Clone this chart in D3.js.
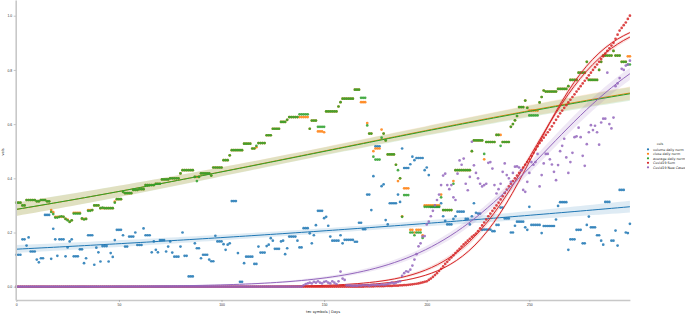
<!DOCTYPE html>
<html>
<head>
<meta charset="utf-8">
<script src="https://cdn.jsdelivr.net/npm/d3@7"></script>
<style>
  body { margin: 0; background: #fff; }
  svg { display: block; font-family: "DejaVu Sans", sans-serif; }
</style>
</head>
<body>
<div id="dataViz"></div>
<script>
const width = 685;
const height = 315;

// Legend entries, in draw order
const cols = ["volume daily norm", "close daily norm", "average daily norm", "Covid19 Sum", "Covid19 New Cases"];
const xTicks = [0, 50, 100, 150, 200, 250];
const yTicks = [0.0, 0.2, 0.4, 0.6, 0.8, 1.0];

// One value per day, day 0..299
const volume = [
  .118,.118,.118,.175,.175,.152,.182,.13,.13,.13,
  .10,.09,.105,.105,.265,.265,.265,.103,.214,.175,
  .114,.175,.175,.175,.112,.145,.167,.175,.112,.112,
  .112,.138,.138,.087,.105,.19,.19,.19,.081,.144,
  .127,.093,.15,.15,.15,.093,.124,.11,.172,.21,
  .21,.21,.19,.148,.148,.185,.185,.185,.20,.154,
  .154,.154,.215,.19,.19,.19,.127,.167,.136,.127,
  .172,.172,.172,.13,.148,.167,.126,.111,.111,.111,
  .148,.20,.114,.114,.038,.038,.038,.16,.142,.142,
  .105,.118,.118,.118,.10,.094,.094,.188,.167,.167,
  .167,.157,.136,.155,.16,.316,.316,.316,.124,.018,
  .018,.087,.111,.111,.111,.111,.084,.084,.148,.126,
  .126,.126,.15,.155,.179,.17,.14,.14,.14,.167,
  .17,.12,.142,.185,.185,.185,.185,.17,.145,.145,
  .216,.216,.216,.197,.16,.19,.227,.28,.28,.28,
  .253,.258,.225,.185,.17,.17,.17,.17,.19,.16,
  .173,.173,.173,.173,.173,.166,.166,.236,.236,.212,
  .212,.34,.34,.283,.408,.518,.518,.518,.371,.378,
  .246,.23,.308,.308,.308,.308,.34,.313,.51,.438,
  .438,.438,.452,.48,.467,.475,.475,.475,.475,.43,
  .44,.412,.295,.295,.295,.295,.295,.308,.26,.243,
  .23,.23,.23,.25,.26,.277,.277,.277,.277,.25,
  .25,.23,.26,.308,.273,.27,.27,.21,.211,.211,
  .211,.211,.205,.205,.228,.228,.292,.292,.252,.252,
  .252,.2,.2,.225,.24,.24,.24,.24,.219,.21,
  .295,.228,.228,.228,.228,.228,.198,.224,.224,.224,
  .224,.224,.224,.248,.298,.312,.312,.312,.312,.136,
  .175,.175,.175,.21,.21,.21,.16,.16,.228,.259,
  .219,.219,.219,.19,.19,.17,.155,.313,.313,.313,
  .17,.17,.207,.152,.357,.357,.357,.2,.198,.232
];

const close = [
  .31,.31,.31,.30,.30,.32,.32,.32,.32,.32,
  .315,.315,.32,.32,.32,.315,.315,.283,.275,.258,
  .258,.258,.258,.258,.25,.248,.24,.245,.273,.273,
  .273,.273,.25,.25,.25,.283,.283,.283,.30,.30,
  .30,.29,.29,.29,.29,.29,.29,.29,.314,.323,
  .323,.323,.35,.345,.345,.345,.345,.357,.357,.357,
  .36,.36,.36,.375,.375,.375,.375,.375,.38,.38,
  .38,.396,.396,.396,.396,.40,.40,.40,.40,.40,
  .418,.43,.43,.43,.43,.43,.43,.405,.405,.405,
  .418,.418,.418,.418,.418,.41,.44,.44,.44,.44,
  .44,.467,.467,.467,.485,.504,.504,.504,.504,.504,
  .504,.528,.528,.528,.528,.51,.51,.515,.53,.53,
  .53,.53,.559,.559,.559,.583,.583,.583,.583,.608,
  .608,.608,.616,.626,.626,.626,.626,.626,.626,.626,
  .626,.626,.626,.583,.613,.613,.613,.573,.573,.573,
  .57,.647,.647,.647,.647,.647,.647,.665,.681,.694,
  .694,.694,.694,.694,.694,.727,.727,.727,.681,.681,
  .681,.604,.565,.565,.50,.51,.51,.51,.58,.565,
  .54,.488,.488,.488,.488,.45,.39,.40,.26,.363,
  .363,.363,.21,.21,.20,.21,.21,.21,.19,.30,
  .30,.30,.30,.30,.30,.30,.30,.34,.283,.283,
  .283,.283,.283,.39,.43,.43,.43,.43,.43,.43,
  .43,.43,.50,.54,.54,.54,.54,.54,.47,.534,
  .534,.534,.534,.534,.56,.56,.56,.534,.534,.534,
  .534,.59,.60,.614,.63,.663,.663,.663,.687,.66,
  .65,.65,.65,.65,.65,.68,.70,.724,.72,.72,
  .72,.72,.72,.72,.73,.73,.73,.73,.73,.74,
  .763,.763,.763,.763,.79,.79,.79,.79,.83,.763,
  .763,.763,.763,.763,.80,.83,.853,.853,.853,.853,
  .853,.87,.853,.853,.853,.83,.83,.83,.85,.85
];

const average = [
  .31,.31,.31,.30,.30,.32,.32,.32,.32,.32,
  .315,.315,.32,.32,.32,.315,.315,.276,.268,.255,
  .255,.258,.26,.258,.25,.245,.239,.245,.27,.27,
  .27,.27,.252,.248,.25,.28,.28,.283,.30,.30,
  .30,.29,.292,.29,.29,.29,.29,.29,.31,.323,
  .323,.323,.35,.345,.345,.345,.345,.357,.357,.357,
  .36,.36,.36,.375,.375,.375,.375,.375,.38,.38,
  .38,.396,.396,.396,.396,.40,.40,.40,.40,.40,
  .418,.43,.43,.43,.43,.43,.43,.405,.39,.405,
  .418,.418,.418,.418,.418,.41,.44,.44,.44,.44,
  .44,.467,.467,.467,.485,.504,.504,.504,.504,.504,
  .504,.528,.528,.528,.528,.51,.51,.52,.53,.53,
  .53,.53,.559,.559,.559,.583,.583,.583,.583,.608,
  .608,.608,.616,.626,.626,.626,.626,.626,.636,.636,
  .636,.636,.636,.583,.613,.613,.613,.59,.59,.59,
  .59,.647,.647,.647,.647,.647,.647,.665,.681,.694,
  .694,.694,.694,.694,.694,.727,.727,.727,.697,.697,
  .697,.595,.565,.565,.48,.469,.469,.469,.55,.565,
  .54,.488,.488,.488,.488,.45,.43,.40,.258,.338,
  .338,.338,.20,.20,.19,.20,.20,.20,.18,.295,
  .295,.295,.295,.295,.295,.295,.295,.33,.283,.283,
  .283,.283,.283,.38,.43,.43,.43,.43,.43,.43,
  .43,.43,.50,.54,.54,.54,.54,.54,.49,.534,
  .534,.534,.534,.534,.56,.56,.52,.534,.534,.534,
  .534,.59,.60,.614,.63,.663,.663,.663,.687,.66,
  .632,.632,.632,.632,.632,.68,.70,.724,.72,.72,
  .72,.72,.72,.72,.73,.73,.73,.73,.73,.74,
  .763,.763,.763,.763,.79,.79,.79,.79,.83,.763,
  .763,.763,.763,.763,.80,.83,.853,.853,.853,.853,
  .853,.87,.853,.853,.853,.83,.83,.83,.82,.82
];

const covidSum = [
  0,0,0,0,0,0,0,0,0,0, 0,0,0,0,0,0,0,0,0,0, 0,0,0,0,0,0,0,0,0,0,
  0,0,0,0,0,0,0,0,0,0, 0,0,0,0,0,0,0,0,0,0, 0,0,0,0,0,0,0,0,0,0,
  0,0,0,0,0,0,0,0,0,0, 0,0,0,0,0,0,0,0,0,0, 0,0,0,0,0,0,0,0,0,0,
  0,0,0,0,0,0,0,0,0,0, 0,0,0,0,0,0,0,0,0,0, 0,0,0,0,0,0,0,0,0,0,
  0,0,0,0,0,0,0,0,0,0, 0,0,0,0,0,0,0,0,0,0, 0,0,0,0,0,0,0,0,0,0,
  0,0,0,0,0,0,0,0,0,0, 0,0,0,0,0,0,0,0,0,0,
  .001,.001,.001,.001,.001,.002,.002,.002,.002,.002,
  .003,.003,.003,.003,.004,.004,.004,.005,.005,.006,
  .006,.007,.008,.009,.01,.011,.012,.014,.016,.018,
  .02,.025,.03,.036,.043,.05,.058,.066,.075,.084,
  .092,.1,.108,.116,.124,.132,.14,.148,.156,.163,
  .17,.177,.184,.19,.196,.205,.215,.226,.237,.248,
  .26,.27,.28,.29,.30,.31,.322,.334,.346,.358,
  .37,.38,.39,.40,.41,.42,.43,.44,.45,.46,
  .47,.482,.494,.506,.518,.53,.54,.55,.56,.57,
  .58,.592,.604,.616,.628,.64,.65,.66,.67,.68,
  .69,.70,.71,.72,.73,.74,.75,.76,.77,.78,
  .79,.80,.81,.82,.83,.84,.85,.86,.87,.88,
  .89,.90,.915,.93,.945,.955,.965,.975,.988,1.0
];

const covidNew = [
  0,0,0,0,0,0,0,0,0,0, 0,0,0,0,0,0,0,0,0,0, 0,0,0,0,0,0,0,0,0,0,
  0,0,0,0,0,0,0,0,0,0, 0,0,0,0,0,0,0,0,0,0, 0,0,0,0,0,0,0,0,0,0,
  0,0,0,0,0,0,0,0,0,0, 0,0,0,0,0,0,0,0,0,0, 0,0,0,0,0,0,0,0,0,0,
  0,0,0,0,0,0,0,0,0,0, 0,0,0,0,0,0,0,0,0,0, 0,0,0,0,0,0,0,0,0,0,
  0,0,0,0,0,0,0,0,0,0, 0,0,0,0,0,0,0,0,0,0,
  .005,.01,.012,.015,.012,.018,.015,.02,.015,.012,
  .018,.02,.015,.012,.02,.015,.01,.02,.056,.03,
  .025,.005,.005,.004,.003,.004,.003,.005,.004,.006,
  .005,.006,.004,.006,.007,.005,.008,.006,.009,.007,
  .008,.01,.012,.015,.012,.015,.018,.02,.04,.05,
  .057,.055,.063,.078,.10,.12,.149,.16,.185,.187,
  .23,.24,.26,.28,.30,.32,.34,.375,.41,.417,
  .375,.36,.375,.33,.32,.417,.466,.45,.473,.38,
  .356,.405,.535,.448,.42,.40,.38,.37,.375,.38,
  .457,.46,.436,.375,.344,.36,.38,.424,.455,.412,
  .40,.387,.42,.443,.444,.44,.43,.357,.35,.387,
  .42,.46,.45,.46,.49,.37,.412,.455,.49,.49,
  .47,.451,.424,.393,.449,.50,.52,.546,.477,.42,
  .46,.494,.552,.555,.587,.552,.483,.446,.526,.57,
  .596,.578,.594,.57,.524,.606,.62,.62,.79,.60,
  .584,.624,.74,.75,.77,.804,.80,.816,.82,.834
];

const colours = ["#1f77b4", "#ff7f0e", "#2ca02c", "#d62728", "#9467bd"];

// fits: first day used for each logistic fit; Covid19 Sum also gets one over its rise only
const series = [
  { name: cols[0], values: volume, colour: colours[0], fits: [0] },
  { name: cols[1], values: close, colour: colours[1], fits: [0] },
  { name: cols[2], values: average, colour: colours[2], fits: [0] },
  { name: cols[3], values: covidSum, colour: colours[3], fits: [0, 220] },
  { name: cols[4], values: covidNew, colour: colours[4], fits: [0] }
];

// Scales
const x = d3.scaleLinear().domain([0, 299]).range([16.3, 629.9]);
const y = d3.scaleLinear().domain([-0.049, 1.058]).range([300, 0]);

const svg = d3.select("#dataViz").append("svg")
  .attr("width", width)
  .attr("height", height);

function inv2(m) {
  const det = m[0][0] * m[1][1] - m[0][1] * m[1][0];
  return [[m[1][1] / det, -m[0][1] / det], [-m[1][0] / det, m[0][0] / det]];
}
const sigmoid = z => 1 / (1 + Math.exp(-z));
const grid = d3.range(0, 299.001, 299 / 99);

// logistic regression (binomial GLM, IRLS) with a 95% band
function logisticFit(values, fromDay) {
  const pts = values.map((v, d) => ({ t: d / 299, v })).filter((p, d) => d >= fromDay);
  const m = d3.mean(pts, p => p.v);
  let beta = [Math.log(m / (1 - m)), 0];
  let cov;
  for (let it = 0; it < 60; it++) {
    const A = [[0, 0], [0, 0]];
    const b = [0, 0];
    pts.forEach(p => {
      const eta = beta[0] + beta[1] * p.t;
      const mu = sigmoid(eta);
      const w = Math.max(mu * (1 - mu), 1e-9);
      const z = eta + (p.v - mu) / w;
      const row = [1, p.t];
      for (let r = 0; r < 2; r++) {
        b[r] += w * row[r] * z;
        for (let c = 0; c < 2; c++) A[r][c] += w * row[r] * row[c];
      }
    });
    cov = inv2(A);
    beta = [cov[0][0] * b[0] + cov[0][1] * b[1], cov[1][0] * b[0] + cov[1][1] * b[1]];
  }
  const phi = d3.sum(pts, p => {
    const mu = sigmoid(beta[0] + beta[1] * p.t);
    return (p.v - mu) ** 2 / (mu * (1 - mu));
  }) / (pts.length - 2);
  return grid.map(d => {
    const u = d / 299;
    const eta = beta[0] + beta[1] * u;
    const se = Math.sqrt(phi * (cov[0][0] + 2 * u * cov[0][1] + u * u * cov[1][1]));
    return { d, yhat: sigmoid(eta), lo: sigmoid(eta - 1.96 * se), hi: sigmoid(eta + 1.96 * se) };
  });
}

const plot = svg.append("g");

const line = d3.line().x(p => x(p.d)).y(p => y(p.yhat));
const area = d3.area().x(p => x(p.d)).y0(p => y(p.lo)).y1(p => y(p.hi));

series.forEach(s => {
  plot.append("g")
    .selectAll("circle")
    .data(s.values)
    .join("circle")
    .attr("cx", (v, d) => x(d))
    .attr("cy", v => y(v))
    .attr("r", 1.35)
    .attr("fill", s.colour)
    .attr("fill-opacity", 0.85);

  s.fits.forEach(fromDay => {
    const fit = logisticFit(s.values, fromDay);
    plot.append("path")
      .datum(fit)
      .attr("d", area)
      .attr("fill", s.colour)
      .attr("fill-opacity", 0.15);
    plot.append("path")
      .datum(fit)
      .attr("d", line)
      .attr("fill", "none")
      .attr("stroke", s.colour)
      .attr("stroke-width", 1);
  });
});

// Axes
const xAxis = svg.append("g")
  .attr("transform", "translate(0, 300)")
  .call(d3.axisBottom(x).tickValues(xTicks).tickSize(2).tickSizeOuter(0).tickPadding(1.5));

const yAxis = svg.append("g")
  .attr("transform", "translate(15.7, 0)")
  .call(d3.axisLeft(y).tickValues(yTicks).tickFormat(d3.format(".1f")).tickSize(2).tickSizeOuter(0).tickPadding(1.5));

[xAxis, yAxis].forEach(g => {
  g.select(".domain").attr("stroke", "#c8c8c8").attr("stroke-width", 1.6);
  g.selectAll(".tick line").attr("stroke", "#888").attr("stroke-width", 0.5);
  g.selectAll(".tick text").attr("fill", "#333").style("font-size", "3.4px");
});

// Axis labels
svg.append("text")
  .attr("x", 323)
  .attr("y", 312.5)
  .attr("text-anchor", "middle")
  .style("font-size", "3.6px")
  .attr("fill", "#222")
  .text("tec symbols | Days");

svg.append("text")
  .attr("transform", "translate(4, 152) rotate(-90)")
  .attr("text-anchor", "middle")
  .style("font-size", "3.6px")
  .attr("fill", "#222")
  .text("vals");

// Legend
const legend = svg.append("g");
legend.append("text")
  .attr("x", 660)
  .attr("y", 144.5)
  .attr("text-anchor", "middle")
  .style("font-size", "3.3px")
  .attr("fill", "#222")
  .text("cols");

series.forEach((s, i) => {
  const cy = 149.3 + i * 4.5;
  legend.append("circle")
    .attr("cx", 648)
    .attr("cy", cy)
    .attr("r", 1.1)
    .attr("fill", s.colour);
  legend.append("text")
    .attr("x", 653)
    .attr("y", cy + 1.2)
    .style("font-size", "3.3px")
    .attr("fill", "#222")
    .text(s.name);
});
</script>
</body>
</html>
